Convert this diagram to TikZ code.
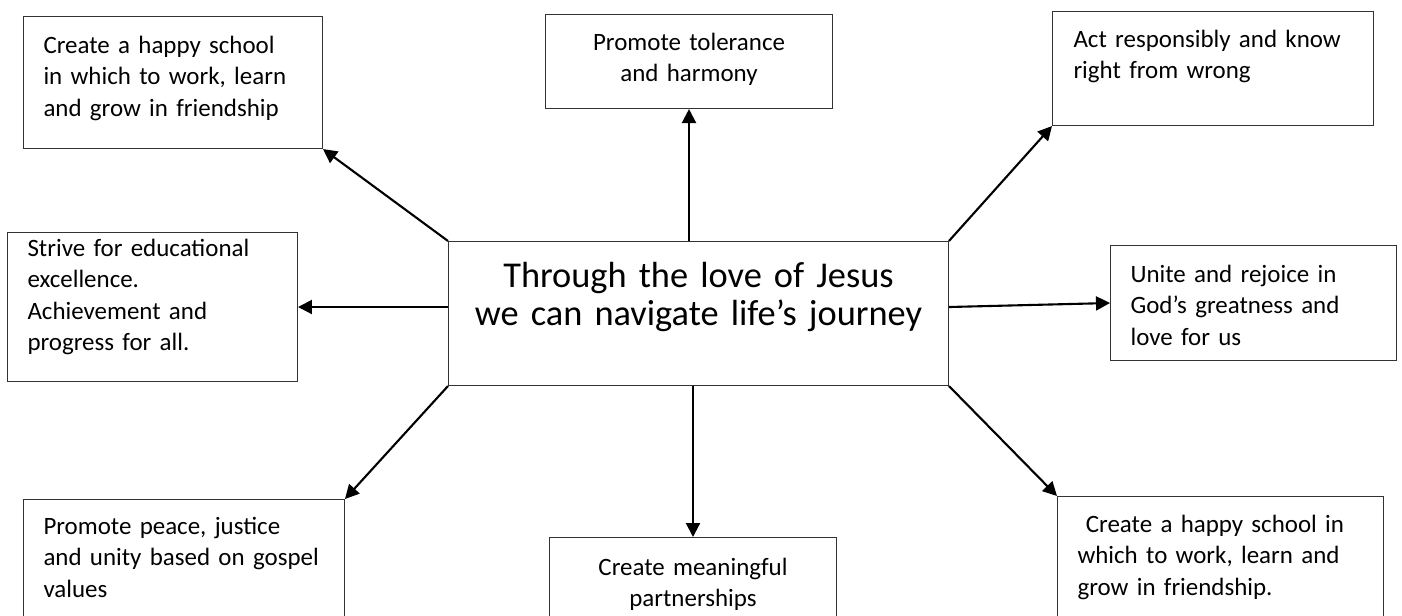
\documentclass[tikz,border=0pt]{standalone}
\usepackage{fontspec}
\setmainfont{Carlito}
\usetikzlibrary{arrows.meta}

\begin{document}
\begin{tikzpicture}
[x=0.02cm, y=-0.02cm,
>={Triangle[length=0.28cm,width=0.28cm]},
link/.style={->, line width=1.2pt},
every node/.style={font=\fontsize{14.2pt}{17.9pt}\selectfont},
goal/.style={draw=black!80, line width=0.6pt, anchor=north west,
  inner ysep=0pt, inner xsep=0.4cm, align=left}
]
  \useasboundingbox (0,0) rectangle (1402,615);
  \clip (0,0) rectangle (1402,615);

  \node[goal, align=center, inner xsep=0.2cm, text width=9.6cm,
        text height=0.92cm, text depth=1.96cm,
        font=\fontsize{20.7pt}{21.5pt}\selectfont]
        (jesus) at (448,241) {Through the love of Jesus\\we can navigate life’s journey};

  \node[goal, text width=5.18cm, text height=0.74cm, text depth=1.90cm]
        (happy) at (23,16) {Create a happy school\\in which to work, learn\\and grow in friendship};
  \node[goal, align=center, text width=4.94cm, text height=0.72cm, text depth=1.16cm]
        (tolerance) at (545,14) {Promote tolerance\\and harmony};
  \node[goal, inner xsep=0.42cm, text width=5.58cm, text height=0.72cm, text depth=1.56cm]
        (right) at (1052,11) {Act responsibly and know\\right from wrong};
  \node[goal, text width=5.0cm, text height=0.48cm, text depth=2.50cm]
        (strive) at (7,232) {Strive for educational\\excellence.\\Achievement and\\progress for all.};
  \node[goal, text width=4.92cm, text height=0.74cm, text depth=1.56cm]
        (unite) at (1110,245) {Unite and rejoice in\\God’s greatness and\\love for us};
  \node[goal, text width=5.62cm, text height=0.70cm, text depth=2.0cm]
        (peace) at (23,499) {Promote peace, justice\\\mbox{and unity based on gospel}\\values};
  \node[goal, align=center, text width=4.94cm, text height=0.76cm, text depth=1.6cm]
        (partner) at (549,537) {Create meaningful\\partnerships};
  \node[goal, text width=5.72cm, text height=0.72cm, text depth=2.0cm]
        (school) at (1057,496) {\ Create a happy school in\\which to work, learn and\\grow in friendship.};

  \draw[link] (jesus.north west) -- (happy.south east);
  \draw[link] (tolerance.south |- jesus.north) -- (tolerance.south);
  \draw[link] (jesus.north east) -- (right.south west);
  \draw[link] (jesus.west |- strive.east) -- (strive.east);
  \draw[link] (jesus.east |- strive.east) -- (unite.west);
  \draw[link] (jesus.south west) -- (peace.north east);
  \draw[link] (partner.north |- jesus.south) -- (partner.north);
  \draw[link] (jesus.south east) -- (school.north west);
\end{tikzpicture}
\end{document}
